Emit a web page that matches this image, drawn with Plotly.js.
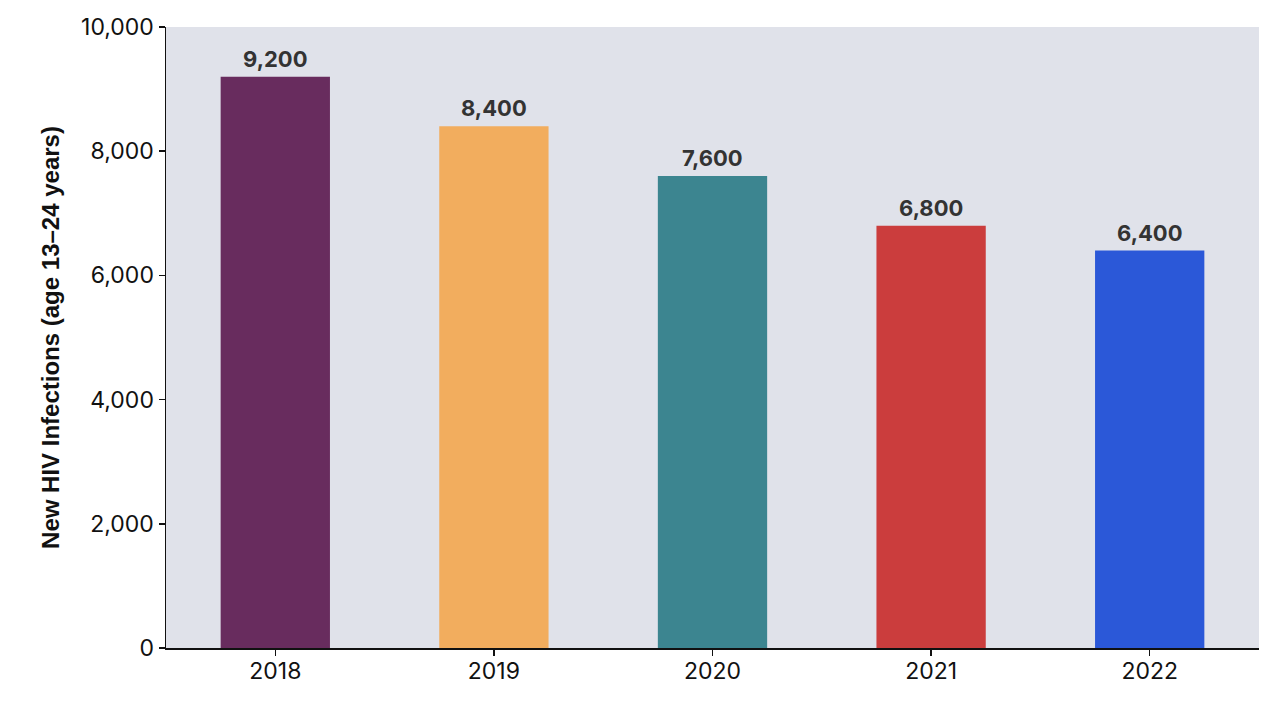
<!DOCTYPE html>
<html><head><meta charset="utf-8">
<script src="https://cdn.plot.ly/plotly-3.0.1.min.js"></script>
<style>html,body{margin:0;padding:0;background:#fff}#c{width:1280px;height:715px}</style>
</head><body><div id="c"></div>
<script>
const years = ['2018','2019','2020','2021','2022'];
const infections = [9200, 8400, 7600, 6800, 6400];
const barColors = ['#682c5e','#f2ad5e','#3c8590','#cb3d3d','#2b58d8'];
const yTicks = [0, 2000, 4000, 6000, 8000, 10000];

const trace = {
  type: 'bar',
  x: years,
  y: infections,
  marker: {color: barColors, line: {width: 0}},
  cliponaxis: false,
  hoverinfo: 'none'
};
const labels = years.map((yr, i) => ({
  x: i, y: infections[i], xref: 'x', yref: 'y',
  text: infections[i].toLocaleString('en-US'),
  showarrow: false, yanchor: 'bottom', yshift: 3,
  font: {family: 'Inter, Lato, sans-serif', size: 22, color: '#333333', weight: 700}
}));
const layout = {
  width: 1280, height: 715,
  margin: {l: 166, r: 21, t: 27, b: 67},
  paper_bgcolor: '#ffffff',
  plot_bgcolor: '#e0e2ea',
  bargap: 0.5,
  showlegend: false,
  annotations: labels,
  font: {family: 'Inter, Lato, sans-serif', color: '#111'},
  xaxis: {
    type: 'category',
    range: [-0.5, years.length - 0.5],
    showline: true, linecolor: '#111', linewidth: 1.5,
    ticks: 'outside', ticklen: 6, tickcolor: '#111', tickwidth: 1.5,
    tickfont: {size: 23, color: '#111'},
    ticklabelstandoff: -4,
    showgrid: false, zeroline: false
  },
  yaxis: {
    range: [0, 10000],
    tickvals: yTicks,
    ticktext: yTicks.map(v => v.toLocaleString('en-US')),
    showline: true, linecolor: '#111', linewidth: 1.5,
    ticks: 'outside', ticklen: 6, tickcolor: '#111', tickwidth: 1.5,
    tickfont: {size: 23, color: '#111'},
    showgrid: false, zeroline: false,
    title: {text: 'New HIV Infections (age 13–24 years)', standoff: 14,
      font: {family: 'Liberation Sans, Arial, sans-serif', size: 24, color: '#111', weight: 700}}
  }
};
Plotly.newPlot('c', [trace], layout, {displayModeBar: false, staticPlot: true});
</script></body></html>
